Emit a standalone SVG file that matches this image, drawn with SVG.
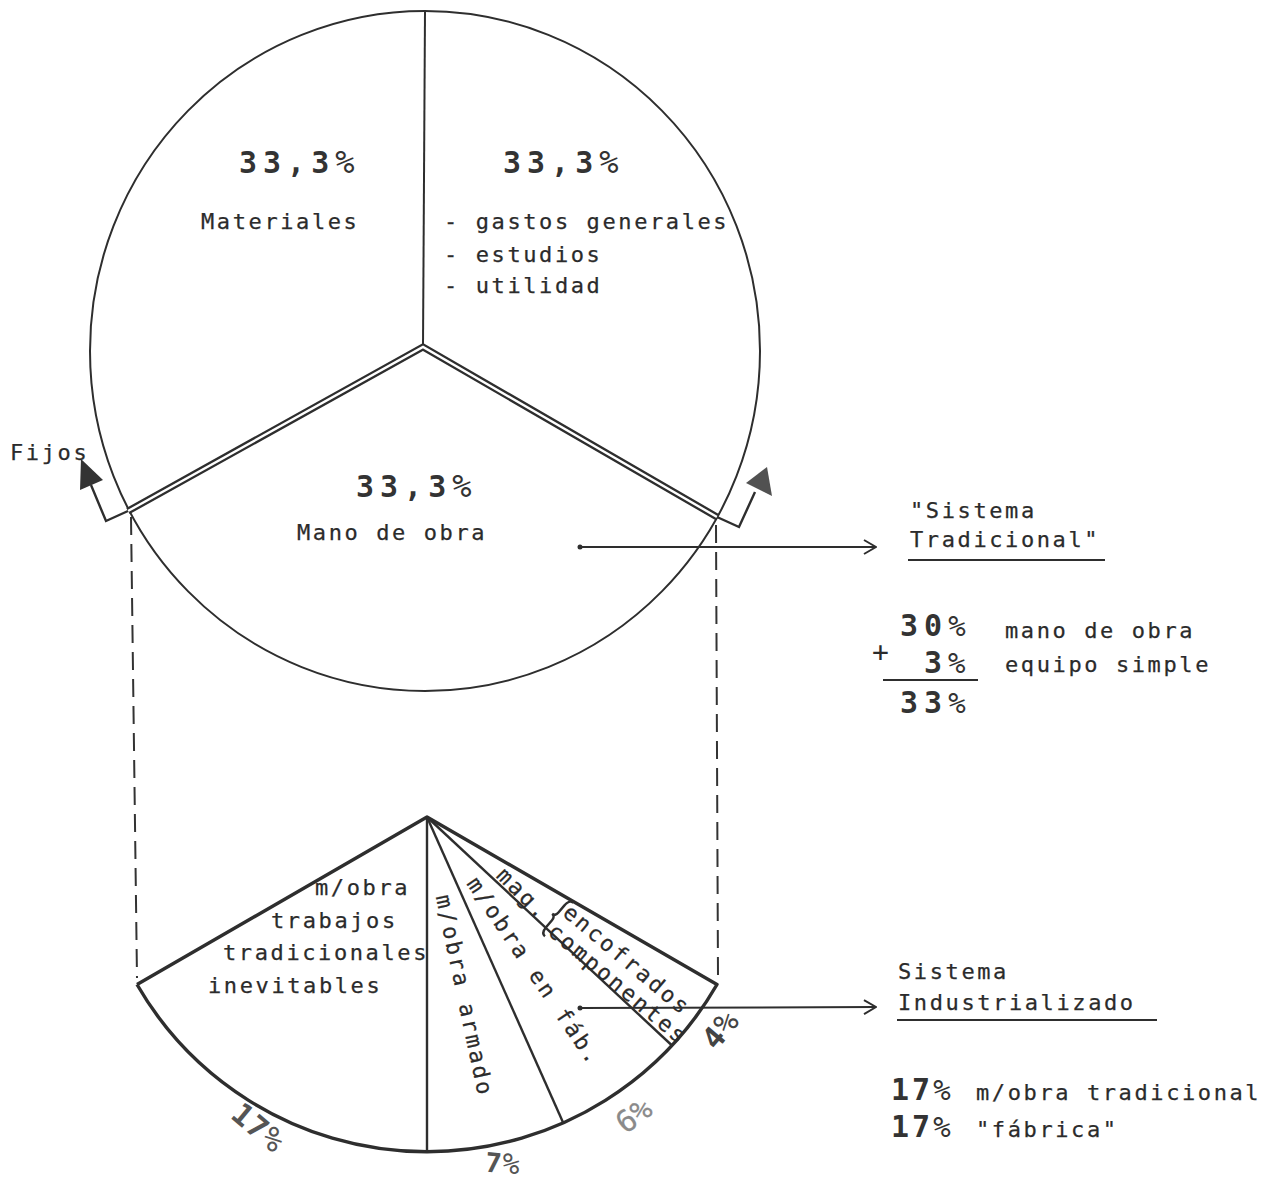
<svg xmlns="http://www.w3.org/2000/svg" width="1280" height="1183" viewBox="0 0 1280 1183">
  <defs>
    <style>
      .t { font-family: "DejaVu Sans Mono", "Liberation Mono", monospace; font-size: 22px; letter-spacing: 2.6px; fill: #2b2b2b; stroke: #2b2b2b; stroke-width: 0.25; }
      .b { font-family: "DejaVu Sans Mono", "Liberation Mono", monospace; font-size: 30px; font-weight: bold; letter-spacing: 6px; fill: #333; }
      .p { font-weight: normal; font-size: 32px; }
      .ps { font-weight: normal; font-size: 29px; }
      .thin { fill: none; stroke: #2e2e2e; stroke-width: 2; }
      .mid { fill: none; stroke: #2e2e2e; stroke-width: 2.4; }
      .thick { fill: none; stroke: #2e2e2e; stroke-width: 3.4; stroke-linejoin: round; }
      .dash { fill: none; stroke: #333; stroke-width: 2; stroke-dasharray: 18 9; }
      .head { fill: #333; }
    </style>
    <marker id="open" viewBox="0 0 14 16" refX="13" refY="8" markerWidth="14" markerHeight="16" markerUnits="userSpaceOnUse" orient="auto">
      <path d="M1,1 L13,8 L1,15" fill="none" stroke="#2e2e2e" stroke-width="2"/>
    </marker>
  </defs>

  <rect width="1280" height="1183" fill="#ffffff"/>

  <!-- upper pie: three equal shares -->
  <g id="pie-upper">
    <ellipse class="thin" cx="425" cy="351" rx="335" ry="340"/>
    <line class="thin" x1="425" y1="11" x2="423" y2="347"/>
    <!-- double line around the labour share -->
    <polyline points="128,511 423,347 717,517" fill="none" stroke="#2e2e2e" stroke-width="7" stroke-linejoin="miter"/>
    <polyline points="128,511 423,347 717,517" fill="none" stroke="#ffffff" stroke-width="2.4" stroke-linejoin="miter"/>
  </g>

  <g id="label-materiales">
    <text class="b" x="239" y="173">33,3<tspan class="p">%</tspan></text>
    <text class="t" x="201" y="229">Materiales</text>
  </g>

  <g id="label-gastos">
    <text class="b" x="503" y="173">33,3<tspan class="p">%</tspan></text>
    <text class="t" x="444" y="229">- gastos generales</text>
    <text class="t" x="444" y="262">- estudios</text>
    <text class="t" x="444" y="293">- utilidad</text>
  </g>

  <g id="label-mano-de-obra">
    <text class="b" x="356" y="497">33,3<tspan class="p">%</tspan></text>
    <text class="t" x="297" y="540">Mano de obra</text>
  </g>

  <!-- fixed-edge markers -->
  <g id="fijos">
    <text class="t" x="10" y="460">Fijos</text>
    <polyline class="mid" points="128,511 106,521 91,485"/>
    <polygon class="head" points="81,459 103,480 80,490"/>
    <polyline class="mid" points="717,517 739,527 755,492"/>
    <polygon class="head" points="767,467 772,496 746,483" fill-opacity="0.85"/>
  </g>

  <!-- lower fan: breakdown of the labour share -->
  <g id="fan-lower">
    <path class="thick" d="M137,984.5 L427,817 L717,984.5 A335,335 0 0 1 137,984.5"/>
    <line class="mid" x1="427" y1="817" x2="427" y2="1152"/>
    <line class="mid" x1="427" y1="817" x2="563.3" y2="1123"/>
    <line class="mid" x1="427" y1="817" x2="672" y2="1045.5"/>
  </g>

  <g id="fan-tradicional">
    <text class="t" x="315" y="895">m/obra</text>
    <text class="t" x="271" y="928">trabajos</text>
    <text class="t" x="223" y="960">tradicionales</text>
    <text class="t" x="208" y="993">inevitables</text>
    <text class="b" transform="translate(258 1128) rotate(40)" text-anchor="middle" y="10" style="fill:#555;letter-spacing:1px">17<tspan class="p">%</tspan></text>
  </g>

  <g id="fan-armado">
    <text class="t" transform="translate(463 996) rotate(78)" text-anchor="middle" y="6">m/obra armado</text>
    <text class="b" transform="translate(503 1164) rotate(5)" text-anchor="middle" y="9" style="fill:#555;letter-spacing:1px;font-size:27px">7<tspan class="ps">%</tspan></text>
  </g>

  <g id="fan-fabrica">
    <text class="t" transform="translate(634 1116) rotate(-37)" text-anchor="middle" y="10" style="fill:#8a8a8a;stroke:#8a8a8a;font-size:30px;letter-spacing:0">6%</text>
    <text class="t" transform="translate(533 972) rotate(56)" text-anchor="middle" y="6">m/obra en fáb.</text>
  </g>

  <g id="fan-maquinaria">
    <text class="t" transform="translate(522 895) rotate(45)" text-anchor="middle" y="6">mag.</text>
    <path class="mid" transform="translate(556 917) rotate(40)" d="M4,-22 Q-1,-22 -1,-14 L-1,-5 Q-1,0 -5,0 Q-1,0 -1,5 L-1,14 Q-1,22 4,22"/>
    <text class="t" transform="translate(626 961) rotate(40)" text-anchor="middle" y="6">encofrados</text>
    <text class="t" transform="translate(617 985) rotate(40)" text-anchor="middle" y="6">componentes</text>
    <text class="b" transform="translate(721 1030) rotate(-50)" text-anchor="middle" y="10" style="fill:#444;letter-spacing:1px">4<tspan class="p">%</tspan></text>
  </g>

  <g id="sistema-tradicional">
    <text class="t" x="910" y="518">"Sistema</text>
    <text class="t" x="910" y="547">Tradicional"</text>
    <line class="thin" x1="908" y1="560" x2="1105" y2="560"/>
    <text class="t" x="872" y="662" style="font-size:28px;stroke-width:0">+</text>
    <text class="b" x="900" y="636">30<tspan class="ps">%</tspan></text>
    <text class="t" x="1005" y="638">mano de obra</text>
    <text class="b" x="924" y="673">3<tspan class="ps">%</tspan></text>
    <text class="t" x="1005" y="672">equipo simple</text>
    <line class="thin" x1="883" y1="680" x2="978" y2="680"/>
    <text class="b" x="900" y="713">33<tspan class="ps">%</tspan></text>
  </g>

  <g id="sistema-industrializado">
    <text class="t" x="898" y="979">Sistema</text>
    <text class="t" x="898" y="1010">Industrializado</text>
    <line class="thin" x1="897" y1="1020" x2="1157" y2="1020"/>
    <text class="b" x="891" y="1100" style="letter-spacing:3px">17<tspan class="ps">%</tspan></text>
    <text class="t" x="976" y="1100">m/obra tradicional</text>
    <text class="b" x="891" y="1137" style="letter-spacing:3px">17<tspan class="ps">%</tspan></text>
    <text class="t" x="976" y="1137">"fábrica"</text>
  </g>

  <g id="connectors">
    <line class="dash" x1="131" y1="517" x2="137" y2="978"/>
    <line class="dash" x1="716" y1="525" x2="718" y2="978"/>
    <circle cx="580" cy="547" r="2.5" fill="#2e2e2e"/>
    <line class="thin" x1="580" y1="547" x2="876" y2="547" marker-end="url(#open)"/>
    <circle cx="580" cy="1008" r="2.5" fill="#2e2e2e"/>
    <line class="thin" x1="580" y1="1008" x2="876" y2="1007" marker-end="url(#open)"/>
  </g>
</svg>
